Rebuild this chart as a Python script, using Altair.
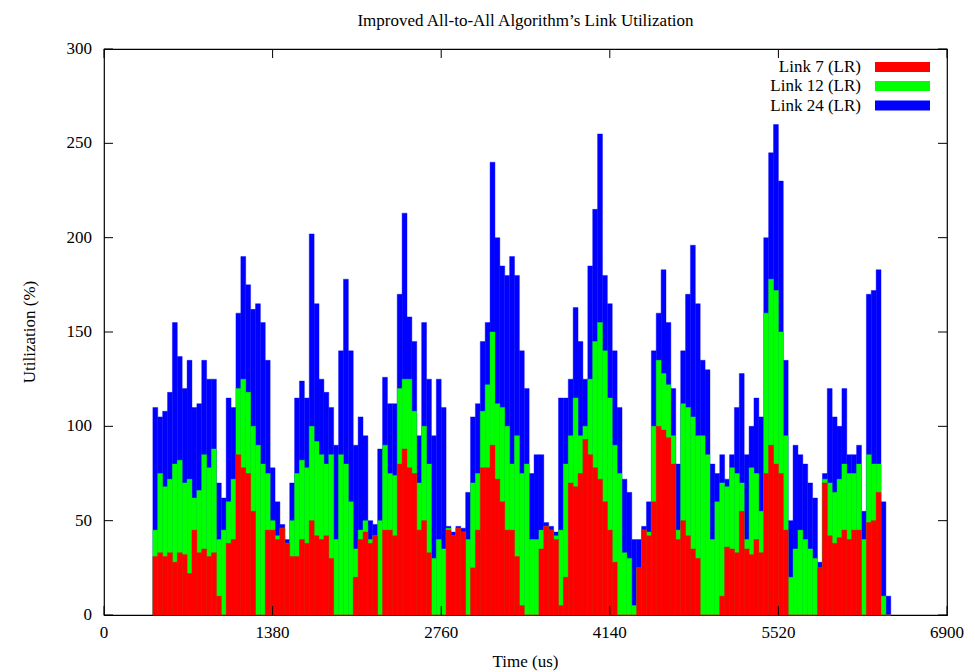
import altair as alt
import pandas as pd

# time bins (us): start of each 40 us bin
bin_start = list(range(400, 6440, 40))
bin_width = 40

# cumulative heights (%): red = Link 7, green top = Link 7 + Link 12, blue top = all three
top_link7 = [31, 33, 31, 33, 28, 33, 32, 22, 45, 33, 35, 31, 33, 10, 0, 38, 40, 85, 78, 75,
             55, 0, 0, 45, 45, 40, 46, 38, 31, 31, 40, 38, 50, 42, 40, 42, 30, 0, 0, 0,
             0, 20, 40, 44, 38, 42, 0, 45, 45, 42, 80, 88, 78, 75, 45, 50, 33, 0, 0, 0,
             45, 42, 46, 44, 0, 25, 45, 78, 78, 90, 72, 60, 45, 45, 31, 5, 0, 0, 0, 35,
             47, 45, 40, 5, 20, 70, 68, 75, 93, 85, 78, 72, 60, 45, 28, 0, 0, 0, 0, 25,
             45, 42, 60, 100, 98, 94, 80, 40, 50, 42, 35, 30, 0, 0, 0, 0, 10, 36, 35, 33,
             55, 35, 32, 40, 33, 75, 90, 80, 75, 45, 0, 0, 0, 0, 0, 0, 25, 70, 42, 38,
             41, 45, 40, 45, 45, 0, 49, 50, 65, 0, 0]
top_link12 = [45, 75, 68, 72, 80, 82, 70, 72, 62, 66, 85, 78, 88, 40, 45, 60, 72, 120, 125, 118,
              100, 90, 80, 75, 50, 42, 46, 38, 50, 75, 82, 78, 100, 92, 85, 80, 85, 40, 85, 80,
              60, 35, 45, 50, 40, 42, 50, 90, 75, 74, 120, 125, 125, 108, 70, 100, 80, 30, 40, 35,
              46, 42, 46, 44, 40, 70, 75, 108, 122, 150, 112, 110, 100, 80, 95, 75, 80, 40, 40, 45,
              47, 45, 42, 45, 80, 95, 115, 95, 100, 125, 145, 155, 140, 115, 90, 75, 33, 30, 5, 25,
              45, 44, 100, 135, 128, 122, 95, 45, 112, 110, 105, 95, 95, 85, 40, 60, 70, 68, 78, 75,
              70, 40, 78, 75, 55, 160, 178, 172, 150, 95, 20, 35, 45, 40, 35, 30, 25, 72, 70, 65,
              72, 80, 75, 75, 80, 40, 85, 80, 80, 10, 0]
top_link24 = [110, 105, 108, 118, 155, 137, 120, 135, 110, 112, 135, 125, 125, 70, 62, 115, 110, 160, 190, 175,
              162, 165, 155, 135, 78, 60, 48, 40, 70, 115, 124, 115, 202, 165, 125, 118, 110, 90, 140, 178,
              140, 90, 105, 95, 50, 48, 88, 126, 112, 112, 170, 213, 158, 145, 95, 155, 125, 95, 125, 110,
              47, 44, 47, 46, 65, 105, 112, 145, 155, 240, 200, 185, 180, 190, 180, 140, 120, 75, 85, 85,
              49, 47, 44, 115, 115, 125, 163, 145, 125, 185, 215, 255, 180, 165, 140, 110, 72, 65, 40, 40,
              47, 60, 140, 160, 183, 155, 120, 80, 140, 170, 196, 165, 135, 130, 80, 75, 85, 72, 85, 110,
              128, 85, 100, 115, 105, 200, 245, 260, 230, 135, 50, 90, 85, 80, 70, 62, 28, 75, 120, 105,
              100, 120, 85, 85, 90, 55, 170, 172, 183, 60, 10]

legend_names = ["Link 7 (LR)", "Link 12 (LR)", "Link 24 (LR)"]
legend_colors = ["#ff0000", "#00ff00", "#0000ff"]
x_ticks = [0, 1380, 2760, 4140, 5520, 6900]
y_ticks = [0, 50, 100, 150, 200, 250, 300]
x_title = "Time (us)"
y_title = "Utilization (%)"
chart_title = "Improved All-to-All Algorithm\u2019s Link Utilization"

FONT = "Liberation Serif"
FS = 17
W, H = 843, 566

df = pd.DataFrame({
    "t0": bin_start,
    "t1": [s + bin_width for s in bin_start],
    "l7": top_link7,
    "l12": top_link12,
    "l24": top_link24,
})

xscale = alt.Scale(domain=[0, 6900], nice=False, zero=False)
yscale = alt.Scale(domain=[0, 300], nice=False)

base = alt.Chart(df)
layers = []
for field, col in [("l24", "#0000ff"), ("l12", "#00ff00"), ("l7", "#ff0000")]:
    layers.append(
        base.mark_rect(color=col, stroke=col, strokeWidth=0.4).encode(
            x=alt.X("t0:Q", scale=xscale, axis=None),
            x2="t1:Q",
            y=alt.Y(f"{field}:Q", scale=yscale, axis=None),
            y2=alt.datum(0),
        )
    )

xt = alt.Chart(pd.DataFrame({"v": x_ticks, "lab": [str(v) for v in x_ticks]}))
yt = alt.Chart(pd.DataFrame({"v": y_ticks, "lab": [str(v) for v in y_ticks]}))
tick_len = 9
layers.append(xt.mark_rule(color="black").encode(
    x=alt.X("v:Q", scale=xscale, axis=None), y=alt.value(H), y2=alt.value(H - tick_len)))
layers.append(xt.mark_rule(color="black").encode(
    x=alt.X("v:Q", scale=xscale, axis=None), y=alt.value(0), y2=alt.value(tick_len)))
layers.append(yt.mark_rule(color="black").encode(
    y=alt.Y("v:Q", scale=yscale, axis=None), x=alt.value(0), x2=alt.value(tick_len)))
layers.append(yt.mark_rule(color="black").encode(
    y=alt.Y("v:Q", scale=yscale, axis=None), x=alt.value(W), x2=alt.value(W - tick_len)))

# tick labels
layers.append(xt.mark_text(font=FONT, fontSize=FS, color="black", align="center", baseline="top").encode(
    x=alt.X("v:Q", scale=xscale, axis=None), y=alt.value(H + 10), text="lab:N"))
layers.append(yt.mark_text(font=FONT, fontSize=FS, color="black", align="right", baseline="middle").encode(
    y=alt.Y("v:Q", scale=yscale, axis=None), x=alt.value(-12), text="lab:N"))

# axis titles
tx = alt.Chart(pd.DataFrame({"t": [x_title]}))
layers.append(tx.mark_text(font=FONT, fontSize=FS, color="black", align="center", baseline="middle").encode(
    x=alt.value(W / 2), y=alt.value(H + 47), text="t:N"))
ty = alt.Chart(pd.DataFrame({"t": [y_title]}))
layers.append(ty.mark_text(font=FONT, fontSize=FS, color="black", align="center", baseline="middle",
                           angle=270).encode(
    x=alt.value(-74), y=alt.value(H / 2), text="t:N"))

# legend (label left of swatch, as in the original)
row_y = [18, 37, 56.5]
for name, col, ry in zip(legend_names, legend_colors, row_y):
    ld = alt.Chart(pd.DataFrame({"name": [name]}))
    layers.append(ld.mark_text(align="right", baseline="middle", font=FONT, fontSize=FS,
                               color="black").encode(
        text="name:N", x=alt.value(757), y=alt.value(ry)))
    layers.append(ld.mark_rect(color=col).encode(
        x=alt.value(771), x2=alt.value(826), y=alt.value(ry - 5), y2=alt.value(ry + 5)))

chart = alt.layer(*layers).properties(
    width=W, height=H,
    background="white",
    title=alt.TitleParams(chart_title, font=FONT, fontSize=FS, fontWeight="normal", color="black",
                          anchor="middle", offset=10),
    autosize="none",
    padding={"left": 104, "top": 49, "right": 28, "bottom": 57},
).configure_view(
    stroke="black", strokeWidth=1.2
)

chart.save("out.html", embed_options={"renderer": "svg", "actions": False})
